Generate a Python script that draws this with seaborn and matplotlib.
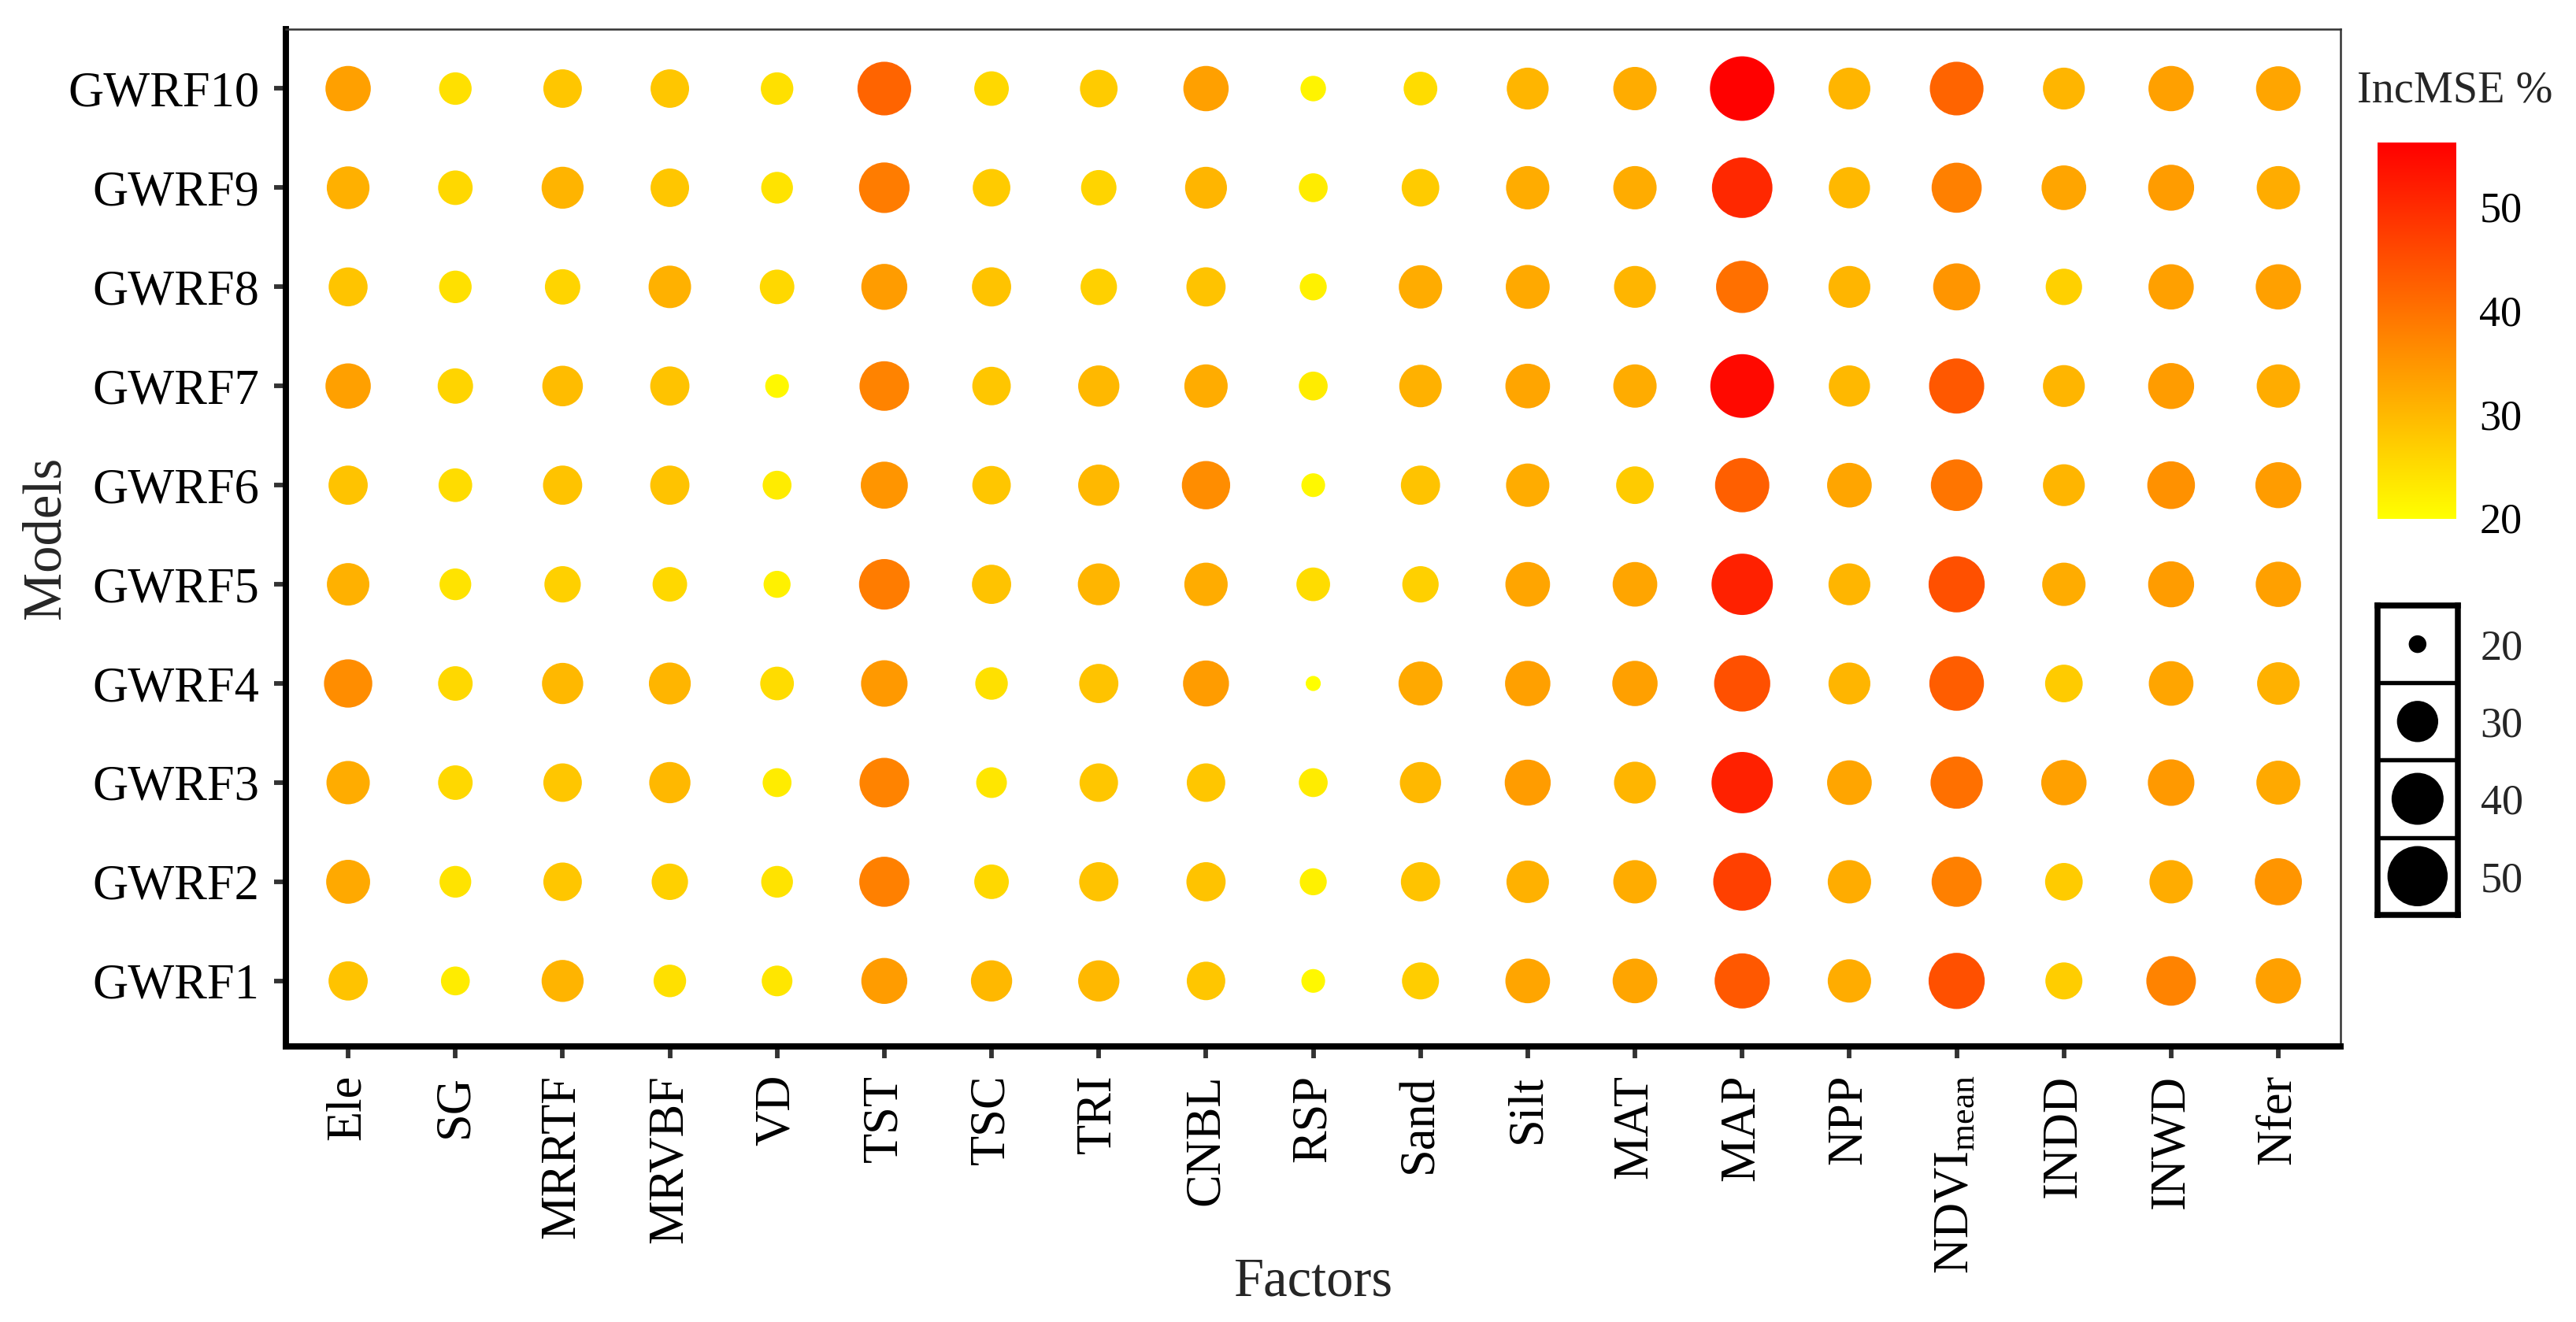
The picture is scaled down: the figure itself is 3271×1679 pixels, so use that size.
import numpy as np
import pandas as pd
import matplotlib
matplotlib.use("Agg")
import matplotlib.pyplot as plt
import seaborn as sns
from matplotlib.colors import LinearSegmentedColormap, Normalize
from matplotlib.cm import ScalarMappable

# models from bottom to top
models = ["GWRF1", "GWRF2", "GWRF3", "GWRF4", "GWRF5",
          "GWRF6", "GWRF7", "GWRF8", "GWRF9", "GWRF10"]
factors = ["Ele", "SG", "MRRTF", "MRVBF", "VD", "TST", "TSC", "TRI", "CNBL",
           "RSP", "Sand", "Silt", "MAT", "MAP", "NPP",
           r"NDVI$_{\mathrm{mean}}$", "INDD", "INWD", "Nfer"]

# IncMSE % per factor, GWRF1 .. GWRF10
ele = [28.5, 32.2, 31.7, 36.2, 31.0, 28.5, 33.4, 28.3, 31.2, 33.4]
sg = [22.7, 24.0, 25.5, 25.5, 24.0, 25.0, 26.0, 24.4, 25.5, 24.4]
mrrtf = [30.6, 28.0, 28.0, 30.0, 26.6, 28.5, 29.5, 26.0, 30.6, 28.0]
mrvbf = [24.4, 26.6, 30.0, 30.5, 25.5, 28.5, 28.5, 31.0, 28.0, 28.0]
vd = [23.5, 24.0, 22.7, 25.0, 22.0, 22.7, 21.0, 25.5, 24.0, 24.4]
tst = [34.0, 38.0, 37.5, 34.5, 38.5, 35.0, 37.5, 34.0, 38.5, 41.9]
tsc = [30.0, 25.5, 23.5, 24.4, 28.5, 28.0, 28.0, 28.5, 27.4, 25.5]
tri = [30.0, 28.5, 28.0, 28.5, 30.5, 30.0, 30.0, 26.6, 26.0, 27.4]
cnbl = [28.0, 28.5, 28.0, 34.0, 31.7, 36.2, 31.7, 28.5, 30.5, 33.4]
rsp = [21.0, 22.0, 22.7, 19.9, 25.0, 21.0, 22.7, 22.0, 22.7, 21.5]
sand = [27.0, 28.5, 30.0, 32.2, 26.6, 28.5, 31.0, 31.7, 27.4, 25.0]
silt = [32.8, 31.0, 34.0, 33.4, 32.8, 31.7, 32.8, 32.2, 31.7, 30.5]
mat = [32.8, 31.7, 30.5, 33.4, 32.8, 27.4, 31.7, 30.5, 31.7, 31.7]
map_ = [43.6, 47.0, 51.5, 44.8, 51.5, 42.6, 54.9, 40.3, 50.4, 56.0]
npp = [31.7, 31.7, 32.8, 30.5, 30.5, 32.8, 30.0, 30.5, 30.0, 30.5]
ndvi = [44.8, 38.0, 40.3, 43.0, 44.8, 39.6, 43.6, 35.0, 38.0, 41.9]
indd = [27.0, 27.4, 33.4, 27.4, 31.7, 30.5, 30.5, 26.6, 32.8, 30.5]
inwd = [37.5, 31.7, 34.5, 32.8, 34.0, 35.6, 34.0, 33.4, 34.0, 33.4]
nfer = [33.4, 35.0, 32.2, 31.0, 33.4, 34.0, 31.7, 33.4, 31.7, 32.8]

values = [ele, sg, mrrtf, mrvbf, vd, tst, tsc, tri, cnbl, rsp, sand, silt,
          mat, map_, npp, ndvi, indd, inwd, nfer]

legend_values = [20, 30, 40, 50]

rows = []
for f, vals in zip(factors, values):
    for m, v in zip(models, vals):
        rows.append((f, m, v))
df = pd.DataFrame(rows, columns=["Factors", "Models", "IncMSE"])

sns.set_theme(style="white")
plt.rcParams["font.family"] = ["Liberation Serif", "DejaVu Serif"]
plt.rcParams["mathtext.fontset"] = "custom"
plt.rcParams["mathtext.rm"] = "Liberation Serif"
plt.rcParams["mathtext.it"] = "Liberation Serif:italic"

cmap = LinearSegmentedColormap.from_list("incmse", ["#FFFF00", "#FF0000"])
vmin, vmax = 19.9, 56.2
dmin, dmax = 4.6, 19.7  # marker diameter range in points


def marker_area(v):
    # diameter grows with sqrt of the rescaled value (ggplot-like size scale)
    t = (v - vmin) / (vmax - vmin)
    d = dmin + (dmax - dmin) * np.sqrt(max(t, 0.0))
    return d * d


size_map = {v: marker_area(v) for v in sorted(set(df["IncMSE"]) | set(legend_values))}

fig = plt.figure(figsize=(3271 / 300, 1679 / 300), dpi=300)
ax = fig.add_axes([0.111, 0.2085, 0.7976, 0.7695])
sns.scatterplot(data=df, x="Factors", y="Models", hue="IncMSE", size="IncMSE",
                palette=cmap, hue_norm=(vmin, vmax), sizes=size_map,
                linewidth=0, legend=False, ax=ax)

ax.set_xlim(-0.58, 18.58)
ax.set_ylim(-0.66, 9.6)

for side in ["left", "bottom"]:
    ax.spines[side].set_linewidth(1.9)
    ax.spines[side].set_color("black")
for side in ["top", "right"]:
    ax.spines[side].set_linewidth(0.6)
    ax.spines[side].set_color("#333333")

ax.tick_params(axis="both", bottom=True, left=True, length=3.6, width=1.4,
               color="#333333", labelsize=15, labelcolor="black")
ax.tick_params(axis="x", rotation=90, pad=5)
ax.tick_params(axis="y", pad=4.5)

ax.set_xlabel("Factors", fontsize=16.5, va="center")
ax.xaxis.set_label_coords(0.5, -0.232)
ax.set_ylabel("Models", fontsize=16.5, va="center")
ax.yaxis.set_label_coords(-0.1165, 0.5)

# colour bar
cax = fig.add_axes([0.923, 0.6075, 0.0306, 0.2847])
sm = ScalarMappable(norm=Normalize(vmin, vmax), cmap=cmap)
cb = fig.colorbar(sm, cax=cax, ticks=[20, 30, 40, 50])
cb.outline.set_visible(False)
cax.tick_params(direction="in", color="white", length=4.6, width=0.6,
                left=True, right=True, labelsize=13, labelcolor="black", pad=7)
fig.text(0.915, 0.931, "IncMSE %", fontsize=13.5, ha="left", va="center")

# size legend
lax = fig.add_axes([0.923, 0.308, 0.031, 0.234])
leg_df = pd.DataFrame({"x": [0.5] * 4, "y": [0.5, 1.5, 2.5, 3.5],
                       "IncMSE": legend_values})
sns.scatterplot(data=leg_df, x="x", y="y", size="IncMSE", sizes=size_map,
                color="black", linewidth=0, legend=False, ax=lax)
lax.set_xlim(0, 1)
lax.set_ylim(4, 0)
for yy in [1, 2, 3]:
    lax.axhline(yy, color="black", lw=1.3)
for side in lax.spines.values():
    side.set_linewidth(1.8)
    side.set_color("black")
lax.set_xticks([])
lax.yaxis.tick_right()
lax.set_yticks([0.5, 1.5, 2.5, 3.5])
lax.set_yticklabels([str(v) for v in legend_values])
lax.tick_params(axis="y", length=0, labelsize=13, pad=7, right=True, left=False)
lax.set_xlabel("")
lax.set_ylabel("")

fig.savefig("out.png", dpi=300)
